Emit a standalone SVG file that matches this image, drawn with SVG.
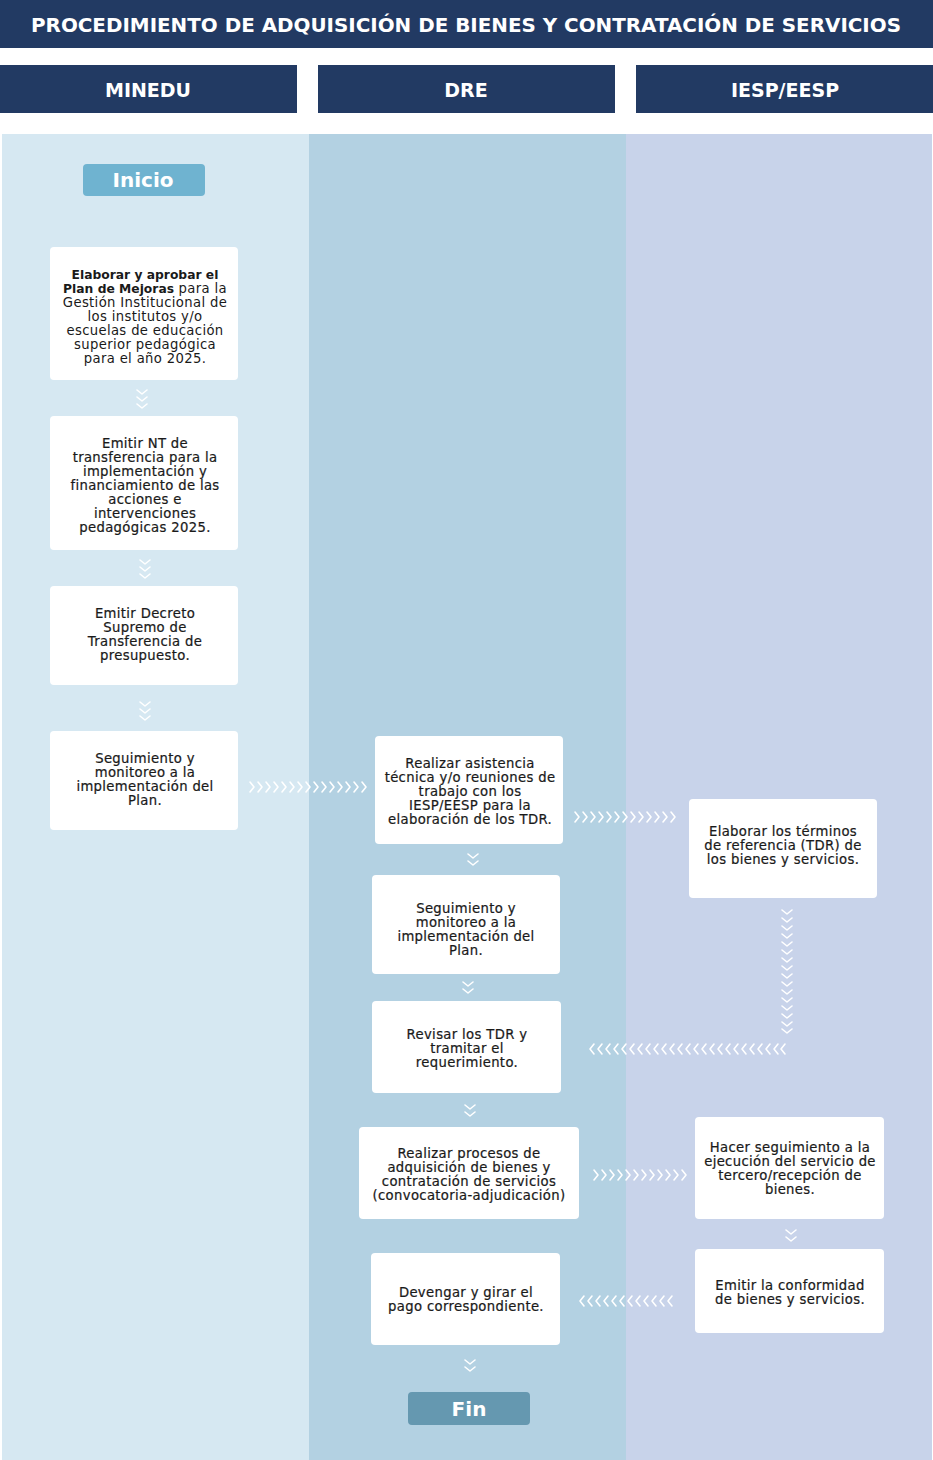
<svg xmlns="http://www.w3.org/2000/svg" xmlns:xlink="http://www.w3.org/1999/xlink" width="933" height="1460" viewBox="0 0 933 1460">
<style>
.hdr{fill:#223a63}
.ht{fill:#fff;font-family:"DejaVu Sans",sans-serif;font-weight:bold;text-anchor:middle}
.box{fill:#fff}
.bt{fill:#1a1a1a;font-family:"DejaVu Sans",sans-serif;font-size:13.2px;letter-spacing:0.35px;text-anchor:middle}
.m{stroke:#1a1a1a;stroke-width:0.22px}
.b{font-weight:bold;font-size:12.3px;letter-spacing:0}
.term{font-family:"DejaVu Sans",sans-serif;font-weight:bold;font-size:20px;fill:#fff;text-anchor:middle}
.ch{fill:none;stroke:#fff;stroke-width:1.6;stroke-linecap:round;stroke-linejoin:round}
</style>
<defs>
<path id="cd" class="ch" d="M-5,-2 L0,2 L5,-2"/>
<path id="cr" class="ch" d="M-2,-5 L2,0 L-2,5"/>
<path id="cl" class="ch" d="M2,-5 L-2,0 L2,5"/>
</defs>

<!-- header -->
<g id="title">
<rect class="hdr" x="0" y="0" width="933" height="48"/>
<text class="ht" x="466" y="32" font-size="19" textLength="870" lengthAdjust="spacingAndGlyphs">PROCEDIMIENTO DE ADQUISICIÓN DE BIENES Y CONTRATACIÓN DE SERVICIOS</text>
</g>
<g id="lane-headers">
<rect class="hdr" x="0" y="65" width="297" height="48"/>
<text class="ht" x="148" y="97" font-size="19">MINEDU</text>
<rect class="hdr" x="318" y="65" width="297" height="48"/>
<text class="ht" x="466" y="97" font-size="19">DRE</text>
<rect class="hdr" x="636" y="65" width="297" height="48"/>
<text class="ht" x="785" y="97" font-size="19">IESP/EESP</text>
</g>
<g id="lanes">
<rect x="2" y="134" width="307" height="1326" fill="#d6e8f2"/>
<rect x="309" y="134" width="317" height="1326" fill="#b3d1e2"/>
<rect x="626" y="134" width="306" height="1326" fill="#c8d3ea"/>
</g>

<!-- nodes -->
<g id="inicio">
<rect x="83" y="164" width="122" height="32" rx="4" fill="#6fb3d0"/>
<text class="term" x="143" y="187">Inicio</text>
</g>
<g id="n1">
<rect class="box" x="50" y="247" width="188" height="133" rx="4"/>
<text class="bt"><tspan x="145" y="279" class="b">Elaborar y aprobar el</tspan><tspan x="145" y="293"><tspan class="b">Plan de Mejoras</tspan> para la</tspan><tspan x="145" y="307">Gestión Institucional de</tspan><tspan x="145" y="321">los institutos y/o</tspan><tspan x="145" y="335">escuelas de educación</tspan><tspan x="145" y="349">superior pedagógica</tspan><tspan x="145" y="363">para el año 2025.</tspan></text>
</g>
<g id="n2">
<rect class="box" x="50" y="416" width="188" height="134" rx="4"/>
<text class="bt m"><tspan x="145" y="448">Emitir NT de</tspan><tspan x="145" y="462">transferencia para la</tspan><tspan x="145" y="476">implementación y</tspan><tspan x="145" y="490">financiamiento de las</tspan><tspan x="145" y="504">acciones e</tspan><tspan x="145" y="518">intervenciones</tspan><tspan x="145" y="532">pedagógicas 2025.</tspan></text>
</g>
<g id="n3">
<rect class="box" x="50" y="586" width="188" height="99" rx="4"/>
<text class="bt m"><tspan x="145" y="618">Emitir Decreto</tspan><tspan x="145" y="632">Supremo de</tspan><tspan x="145" y="646">Transferencia de</tspan><tspan x="145" y="660">presupuesto.</tspan></text>
</g>
<g id="n4">
<rect class="box" x="50" y="731" width="188" height="99" rx="4"/>
<text class="bt m"><tspan x="145" y="763">Seguimiento y</tspan><tspan x="145" y="777">monitoreo a la</tspan><tspan x="145" y="791">implementación del</tspan><tspan x="145" y="805">Plan.</tspan></text>
</g>
<g id="n5">
<rect class="box" x="375" y="736" width="188" height="108" rx="4"/>
<text class="bt m"><tspan x="470" y="768">Realizar asistencia</tspan><tspan x="470" y="782">técnica y/o reuniones de</tspan><tspan x="470" y="796">trabajo con los</tspan><tspan x="470" y="810">IESP/EESP para la</tspan><tspan x="470" y="824">elaboración de los TDR.</tspan></text>
</g>
<g id="n6">
<rect class="box" x="689" y="799" width="188" height="99" rx="4"/>
<text class="bt m"><tspan x="783" y="836">Elaborar los términos</tspan><tspan x="783" y="850">de referencia (TDR) de</tspan><tspan x="783" y="864">los bienes y servicios.</tspan></text>
</g>
<g id="n7">
<rect class="box" x="372" y="875" width="188" height="99" rx="4"/>
<text class="bt m"><tspan x="466" y="913">Seguimiento y</tspan><tspan x="466" y="927">monitoreo a la</tspan><tspan x="466" y="941">implementación del</tspan><tspan x="466" y="955">Plan.</tspan></text>
</g>
<g id="n8">
<rect class="box" x="372" y="1001" width="189" height="92" rx="4"/>
<text class="bt m"><tspan x="467" y="1039">Revisar los TDR y</tspan><tspan x="467" y="1053">tramitar el</tspan><tspan x="467" y="1067">requerimiento.</tspan></text>
</g>
<g id="n9">
<rect class="box" x="359" y="1127" width="220" height="92" rx="4"/>
<text class="bt m"><tspan x="469" y="1158">Realizar procesos de</tspan><tspan x="469" y="1172">adquisición de bienes y</tspan><tspan x="469" y="1186">contratación de servicios</tspan><tspan x="469" y="1200">(convocatoria-adjudicación)</tspan></text>
</g>
<g id="n10">
<rect class="box" x="695" y="1117" width="189" height="102" rx="4"/>
<text class="bt m"><tspan x="790" y="1152">Hacer seguimiento a la</tspan><tspan x="790" y="1166">ejecución del servicio de</tspan><tspan x="790" y="1180">tercero/recepción de</tspan><tspan x="790" y="1194">bienes.</tspan></text>
</g>
<g id="n11">
<rect class="box" x="695" y="1249" width="189" height="84" rx="4"/>
<text class="bt m"><tspan x="790" y="1290">Emitir la conformidad</tspan><tspan x="790" y="1304">de bienes y servicios.</tspan></text>
</g>
<g id="n12">
<rect class="box" x="371" y="1253" width="189" height="92" rx="4"/>
<text class="bt m"><tspan x="466" y="1297">Devengar y girar el</tspan><tspan x="466" y="1311">pago correspondiente.</tspan></text>
</g>
<g id="fin">
<rect x="408" y="1392" width="122" height="33" rx="4" fill="#6598b0"/>
<text class="term" x="469" y="1416">Fin</text>
</g>

<!-- connectors -->
<g id="connectors">
<use href="#cd" x="142" y="392"/><use href="#cd" x="142" y="399"/><use href="#cd" x="142" y="406"/>
<use href="#cd" x="145" y="562"/><use href="#cd" x="145" y="569"/><use href="#cd" x="145" y="576"/>
<use href="#cd" x="145" y="704"/><use href="#cd" x="145" y="711"/><use href="#cd" x="145" y="718"/>
<use href="#cr" x="252" y="787"/><use href="#cr" x="260" y="787"/><use href="#cr" x="268" y="787"/><use href="#cr" x="276" y="787"/><use href="#cr" x="284" y="787"/><use href="#cr" x="292" y="787"/><use href="#cr" x="300" y="787"/><use href="#cr" x="308" y="787"/><use href="#cr" x="316" y="787"/><use href="#cr" x="324" y="787"/><use href="#cr" x="332" y="787"/><use href="#cr" x="340" y="787"/><use href="#cr" x="348" y="787"/><use href="#cr" x="356" y="787"/><use href="#cr" x="364" y="787"/>
<use href="#cr" x="577" y="817"/><use href="#cr" x="585" y="817"/><use href="#cr" x="593" y="817"/><use href="#cr" x="601" y="817"/><use href="#cr" x="609" y="817"/><use href="#cr" x="617" y="817"/><use href="#cr" x="625" y="817"/><use href="#cr" x="633" y="817"/><use href="#cr" x="641" y="817"/><use href="#cr" x="649" y="817"/><use href="#cr" x="657" y="817"/><use href="#cr" x="665" y="817"/><use href="#cr" x="673" y="817"/>
<use href="#cd" x="473" y="856"/><use href="#cd" x="473" y="863"/>
<use href="#cd" x="468" y="984"/><use href="#cd" x="468" y="991"/>
<use href="#cd" x="787" y="912"/><use href="#cd" x="787" y="920"/><use href="#cd" x="787" y="928"/><use href="#cd" x="787" y="936"/><use href="#cd" x="787" y="944"/><use href="#cd" x="787" y="952"/><use href="#cd" x="787" y="960"/><use href="#cd" x="787" y="968"/><use href="#cd" x="787" y="976"/><use href="#cd" x="787" y="984"/><use href="#cd" x="787" y="992"/><use href="#cd" x="787" y="1000"/><use href="#cd" x="787" y="1008"/><use href="#cd" x="787" y="1016"/><use href="#cd" x="787" y="1024"/><use href="#cd" x="787" y="1031"/>
<use href="#cl" x="592" y="1049"/><use href="#cl" x="600" y="1049"/><use href="#cl" x="608" y="1049"/><use href="#cl" x="616" y="1049"/><use href="#cl" x="624" y="1049"/><use href="#cl" x="632" y="1049"/><use href="#cl" x="640" y="1049"/><use href="#cl" x="648" y="1049"/><use href="#cl" x="656" y="1049"/><use href="#cl" x="664" y="1049"/><use href="#cl" x="672" y="1049"/><use href="#cl" x="680" y="1049"/><use href="#cl" x="688" y="1049"/><use href="#cl" x="696" y="1049"/><use href="#cl" x="704" y="1049"/><use href="#cl" x="712" y="1049"/><use href="#cl" x="720" y="1049"/><use href="#cl" x="728" y="1049"/><use href="#cl" x="736" y="1049"/><use href="#cl" x="744" y="1049"/><use href="#cl" x="752" y="1049"/><use href="#cl" x="760" y="1049"/><use href="#cl" x="768" y="1049"/><use href="#cl" x="776" y="1049"/><use href="#cl" x="783" y="1049"/>
<use href="#cd" x="470" y="1107"/><use href="#cd" x="470" y="1114"/>
<use href="#cr" x="596" y="1175"/><use href="#cr" x="604" y="1175"/><use href="#cr" x="612" y="1175"/><use href="#cr" x="620" y="1175"/><use href="#cr" x="628" y="1175"/><use href="#cr" x="636" y="1175"/><use href="#cr" x="644" y="1175"/><use href="#cr" x="652" y="1175"/><use href="#cr" x="660" y="1175"/><use href="#cr" x="668" y="1175"/><use href="#cr" x="676" y="1175"/><use href="#cr" x="684" y="1175"/>
<use href="#cd" x="791" y="1232"/><use href="#cd" x="791" y="1239"/>
<use href="#cl" x="582" y="1301"/><use href="#cl" x="590" y="1301"/><use href="#cl" x="598" y="1301"/><use href="#cl" x="606" y="1301"/><use href="#cl" x="614" y="1301"/><use href="#cl" x="622" y="1301"/><use href="#cl" x="630" y="1301"/><use href="#cl" x="638" y="1301"/><use href="#cl" x="646" y="1301"/><use href="#cl" x="654" y="1301"/><use href="#cl" x="662" y="1301"/><use href="#cl" x="670" y="1301"/>
<use href="#cd" x="470" y="1362"/><use href="#cd" x="470" y="1369"/>
</g>
</svg>
